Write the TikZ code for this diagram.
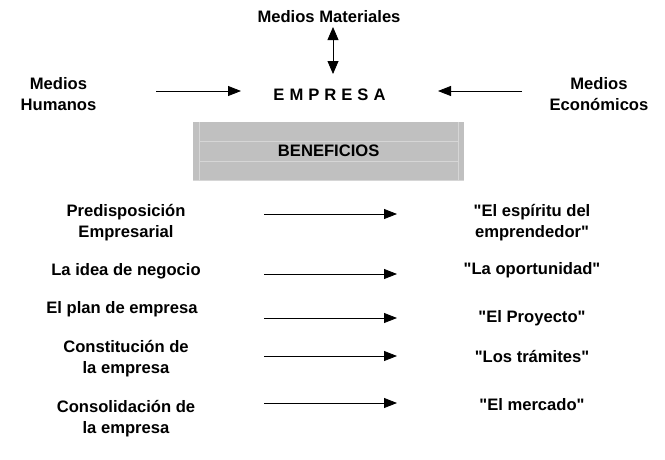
\documentclass[tikz,border=0pt]{standalone}
\usepackage{fontspec}
\setmainfont{Liberation Sans}
\usepackage{tikz}
\usetikzlibrary{shapes.geometric, arrows, arrows.meta}
\definecolor{gris}{HTML}{C0C0C0}
\definecolor{grisclaro}{HTML}{D6D6D6}
\newcommand{\cq}{\textquotedbl}

\begin{document}
\begin{tikzpicture}[x=1pt, y=-1pt,
				flecha/.style={line width=0.8pt, -{Triangle[length=13pt,width=10pt]}},
				doble/.style={line width=0.8pt, {Triangle[length=13pt,width=11pt]}-{Triangle[length=13pt,width=11pt]}},
				caja/.style={rectangle, fill=gris, minimum width=271pt, minimum height=58pt, inner sep=0pt}]
					\tikzstyle{every node}=[font=\fontsize{16.6}{21}\selectfont\bfseries, align=center, text centered, inner sep=0pt]
					\useasboundingbox (0,0) rectangle (665,459);
					\node (materiales) at (329,16.5) {Medios Materiales};
					\node (empresa) at (329.5,94.5) {E\hspace{5pt}M\hspace{5pt}P\hspace{5pt}R\hspace{5pt}E\hspace{5pt}S\hspace{5pt}A};
					\node (humanos) at (58.5,94.5) {Medios\\Humanos};
					\node (economicos) at (599,94.5) {Medios\\Económicos};
					\node[caja] (beneficios) at (328.7,151) {BENEFICIOS};
					\draw[grisclaro, line width=0.8pt] ([xshift=6pt]beneficios.north west) -- ([xshift=6pt]beneficios.south west)
						([xshift=-6pt]beneficios.north east) -- ([xshift=-6pt]beneficios.south east)
						([xshift=6pt,yshift=9.5pt]beneficios.west) -- ([xshift=-6pt,yshift=9.5pt]beneficios.east)
						([xshift=6pt,yshift=-10pt]beneficios.west) -- ([xshift=-6pt,yshift=-10pt]beneficios.east)
						(beneficios.south west) -- (beneficios.south east);
					\coordinate (mA) at (333,27);
					\coordinate (mB) at (333,74);
					\coordinate (hA) at (156,91);
					\coordinate (hB) at (241,91);
					\coordinate (eA) at (522,91);
					\coordinate (eB) at (438,91);
					\draw[doble] (mA) -- (mB);
					\draw[flecha] (hA) -- (hB);
					\draw[flecha] (eA) -- (eB);
					% etapas y beneficios
					\node (pre) at (126,222.5) {Predisposición\\Empresarial};
					\node (idea) at (126,271.5) {La idea de negocio};
					\node (plan) at (122,309.5) {El plan de empresa};
					\node (cons) at (126,358.5) {Constitución de\\la empresa};
					\node (conso) at (126,418.5) {Consolidación de\\la empresa};
					\node (espiritu) at (532,222.5) {\cq El espíritu del\\emprendedor\cq};
					\node (oport) at (532,270.5) {\cq La oportunidad\cq};
					\node (proy) at (532,318.5) {\cq El Proyecto\cq};
					\node (tram) at (532,356.5) {\cq Los trámites\cq};
					\node (merc) at (532,404.5) {\cq El mercado\cq};
					\foreach \n/\y in {1/214, 2/274, 3/318, 4/356, 5/403} {
						\coordinate (a\n) at (264,\y);
						\coordinate (b\n) at (397,\y);
						\draw[flecha] (a\n) -- (b\n);
					}
				\end{tikzpicture}
\end{document}
